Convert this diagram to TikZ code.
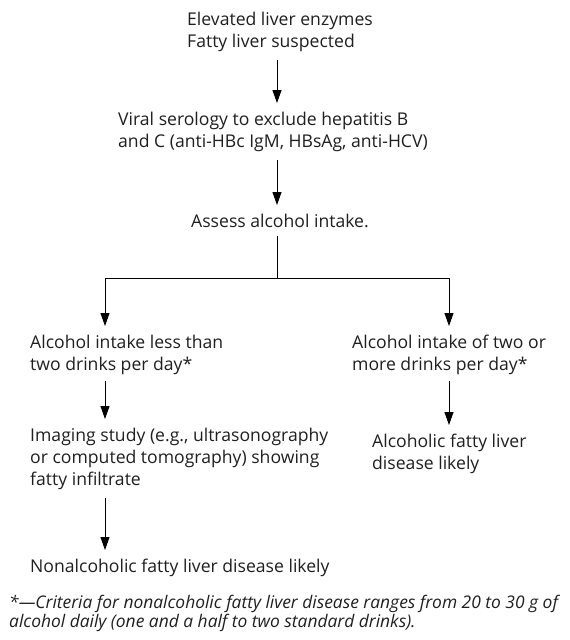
\documentclass[tikz,border=0pt]{standalone}
\usepackage{fontspec}
\setmainfont{Open Sans}
\usetikzlibrary{arrows.meta}

\begin{document}
\begin{tikzpicture}[x=1pt,y=-1pt,>={Triangle[length=13pt,width=9pt]},
    text node/.style={anchor=north west,inner sep=0pt,align=left,text=black!88,
        font=\fontsize{17.6}{22}\selectfont},
    flow/.style={->,line width=0.95pt,shorten <=8pt,shorten >=9pt}]

            \useasboundingbox (0,0) rectangle (570,640);

            \node[text node]  (enz)    at (187,12)  {Elevated liver enzymes\\Fatty liver suspected};
            \node[text node]  (sero)   at (118,112) {Viral serology to exclude hepatitis B\\and C (anti-HBc IgM, HBsAg, anti-HCV)};
            \node[text node]  (assess) at (191,214) {Assess alcohol intake.};
            \node[text node]  (less)   at (30,335)  {Alcohol intake less than\\two drinks per day*};
            \node[text node]  (more)   at (352,335) {Alcohol intake of two or\\more drinks per day*};
            \node[text node]  (img)    at (30,428)  {Imaging study (e.g., ultrasonography\\or computed tomography) showing\\fatty infiltrate};
            \node[text node]  (afld)   at (372,434) {Alcoholic fatty liver\\disease likely};
            \node[text node]  (nafld)  at (30,559)  {Nonalcoholic fatty liver disease likely};
            \node[text node, font=\fontsize{17.4}{19}\selectfont\itshape]  (note) at (9,595)
                {*---Criteria for nonalcoholic fatty liver disease ranges from 20 to 30 g of\\alcohol daily (one and a half to two standard drinks).};

            \coordinate (spine) at (277,0);
            \coordinate (lcol)  at (105,0);
            \coordinate (rcol)  at (449,0);
            \coordinate (fork)  at (277,278);

            \draw[flow] (enz.south -| spine) -- (sero.north -| spine);
            \draw[flow] (sero.south -| spine) -- (assess.north -| spine);
            \draw[line width=0.95pt, shorten <=8pt] (assess.south -| spine) -- (fork);
            \draw[flow, shorten <=0pt] (fork) -| (less.north -| lcol);
            \draw[flow, shorten <=0pt] (fork) -| (more.north -| rcol);
            \draw[flow, shorten <=6pt] (less.south -| lcol) -- (img.north -| lcol);
            \draw[flow] (img.south -| lcol) -- (nafld.north -| lcol);
            \draw[flow, shorten <=6pt] (more.south -| rcol) -- (afld.north -| rcol);
        \end{tikzpicture}
\end{document}
